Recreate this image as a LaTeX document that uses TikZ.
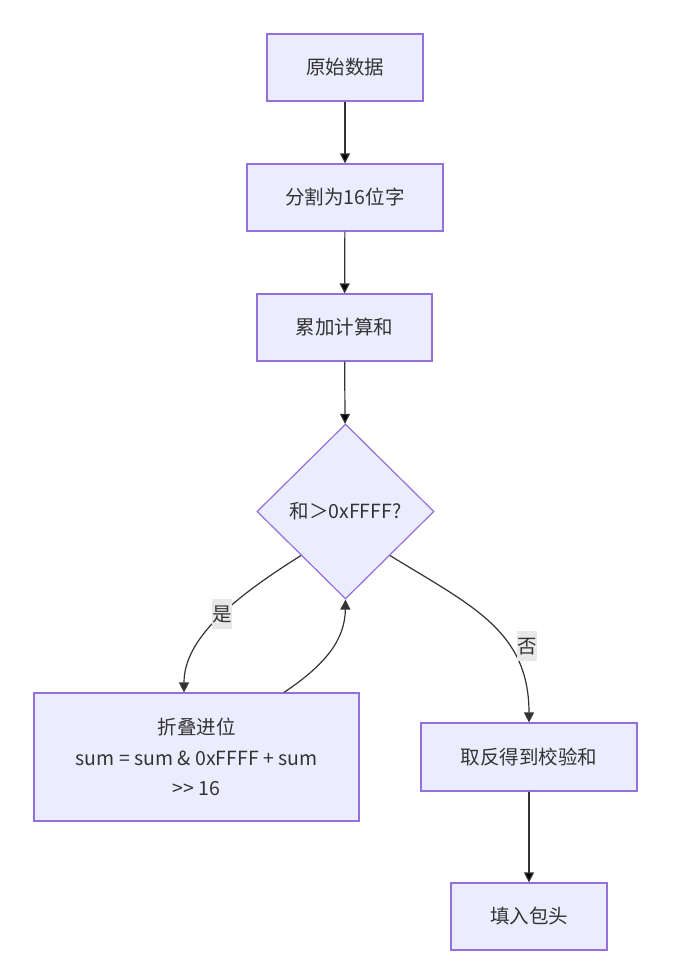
\documentclass[tikz,border=0pt]{standalone}
\usepackage{fontspec}
\setmainfont{Noto Sans CJK SC}[Ligatures=TeXOff]
\usetikzlibrary{shapes.geometric,arrows.meta}

\definecolor{boxfill}{HTML}{ECECFF}
\definecolor{boxline}{HTML}{9370DB}
\definecolor{edgeline}{HTML}{333333}
\definecolor{labelbg}{HTML}{E8E8E8}

\begin{document}
\begin{tikzpicture}[x=1pt,y=-1pt,font=\fontsize{19.5}{30.5}\selectfont,text=edgeline,
		box/.style={rectangle,draw=boxline,fill=boxfill,line width=1.2pt,inner sep=0pt,align=center,minimum height=67pt},
		decision/.style={diamond,draw=boxline,fill=boxfill,line width=1.2pt,inner sep=0pt,minimum width=177pt,minimum height=175pt},
		lbl/.style={fill=labelbg,inner sep=0pt,minimum width=20pt,minimum height=30pt},
		link/.style={draw=edgeline,line width=1.2pt},
		>={Triangle[length=10pt,width=10pt]}]
		\useasboundingbox (0,0) rectangle (676,974);
		\node[box,minimum width=156pt] (raw) at (345,67.5) {原始数据};
		\node[box,minimum width=196pt] (split) at (345,197.5) {分割为16位字};
		\node[box,minimum width=175pt] (accum) at (344.5,327.5) {累加计算和};
		\node[decision] (check) at (345.5,511.5) {和＞0xFFFF?};
		\node[box,minimum width=325pt,minimum height=128pt] (fold) at (196.5,757) {折叠进位\\sum = sum \& 0xFFFF + sum\\>> 16};
		\node[box,minimum width=216pt,minimum height=68pt] (invert) at (529,757) {取反得到校验和};
		\node[box,minimum width=156pt] (header) at (529,916.5) {填入包头};

		\path[->,link] (raw) edge (split)
		          (split) edge (accum)
		          (accum) edge (check)
		          (invert) edge (header);
		\draw[->,link] (check.south west) .. controls (230,600) and (184,640) .. ([xshift=-12.5pt]fold.north)
			node[lbl,pos=0.45] {是};
		\draw[->,link] ([xshift=87.5pt]fold.north) .. controls (325,665) and (345,640) .. (check.south);
		\draw[->,link] (check.south east) .. controls (470,605) and (529,630) .. (invert.north)
			node[lbl,pos=0.65,xshift=18pt] {否};
	\end{tikzpicture}
\end{document}
